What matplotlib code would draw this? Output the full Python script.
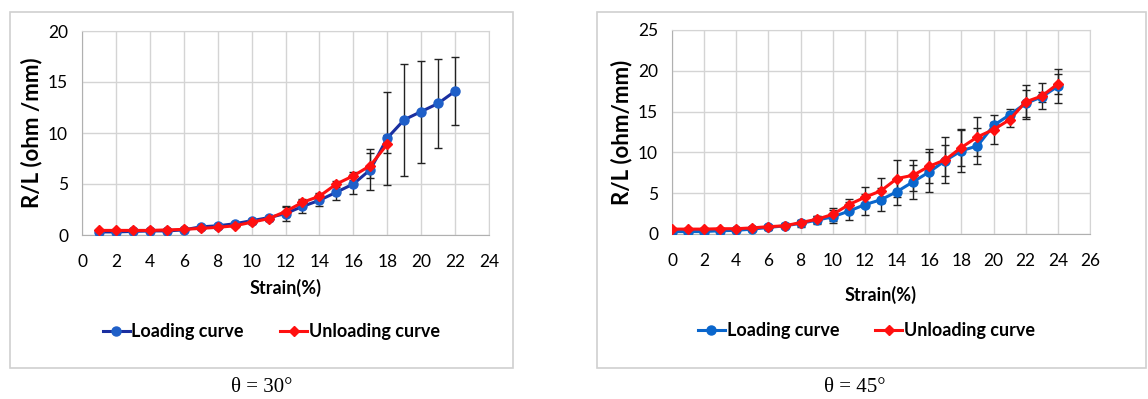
import numpy as np
import matplotlib
matplotlib.use("Agg")
import matplotlib.pyplot as plt
from matplotlib.patches import Rectangle

plt.rcParams['font.family'] = ['Lato', 'DejaVu Sans']

# ---- data: theta = 30 deg ----
strain_30_load = list(range(1, 23))
rl_30_load = [0.3, 0.3, 0.35, 0.4, 0.4, 0.5, 0.8, 0.9, 1.1, 1.4, 1.7, 2.1,
              2.8, 3.4, 4.2, 5.0, 6.4, 9.5, 11.3, 12.1, 12.9, 14.1]
err_30_load = [0.05, 0.05, 0.05, 0.05, 0.05, 0.1, 0.1, 0.15, 0.15, 0.2, 0.2, 0.7,
               0.6, 0.6, 0.8, 1.0, 2.0, 4.55, 5.5, 5.0, 4.35, 3.35]
strain_30_unload = list(range(1, 19))
rl_30_unload = [0.45, 0.45, 0.45, 0.45, 0.5, 0.55, 0.65, 0.75, 0.9, 1.25, 1.6, 2.3,
                3.2, 3.8, 5.0, 5.8, 6.8, 8.9]
err_30_unload = [0.05, 0.05, 0.05, 0.05, 0.05, 0.05, 0.1, 0.1, 0.1, 0.15, 0.2, 0.4,
                 0.3, 0.3, 0.3, 0.4, 1.2, 0.9]

# ---- data: theta = 45 deg ----
strain_45 = list(range(0, 25))
rl_45_load = [0.3, 0.3, 0.3, 0.4, 0.45, 0.6, 0.8, 1.0, 1.3, 1.7, 2.1, 2.8, 3.6,
              4.2, 5.2, 6.4, 7.6, 9.0, 10.2, 10.8, 13.3, 14.6, 16.0, 16.8, 18.1]
err_45_load = [0.1, 0.1, 0.1, 0.1, 0.1, 0.1, 0.3, 0.3, 0.4, 0.5, 0.8, 1.1, 1.3,
               1.4, 1.65, 2.1, 2.4, 1.9, 2.6, 2.25, 0.4, 0.7, 1.7, 0.6, 2.1]
rl_45_unload = [0.6, 0.6, 0.6, 0.65, 0.65, 0.75, 0.9, 1.0, 1.4, 1.8, 2.4, 3.6, 4.5,
                5.3, 6.8, 7.2, 8.3, 9.1, 10.6, 11.9, 12.8, 14.0, 16.2, 16.9, 18.4]
err_45_unload = [0.1, 0.1, 0.1, 0.1, 0.1, 0.1, 0.2, 0.2, 0.3, 0.4, 0.75, 0.7, 1.2,
                 1.55, 2.25, 1.9, 2.1, 2.8, 2.3, 2.4, 1.8, 0.9, 2.1, 1.6, 1.2]

W, H = 1148, 399
fig = plt.figure(figsize=(W / 100, H / 100), dpi=100)

# grey frames around the two panels
for x0, x1 in [(10, 513), (597, 1146)]:
    fig.patches.append(Rectangle((x0 / W, 1 - 368 / H), (x1 - x0) / W, 356 / H,
                                 transform=fig.transFigure, fill=False,
                                 edgecolor='#d0d0d0', linewidth=1.2))


def draw_panel(ax, xl, yl, el, xu, yu, eu, load_line, load_mark,
               xmax, ymax, ylabel, xlabelpad, caption_x, caption):
    ax.errorbar(xl, yl, yerr=el, fmt='none', ecolor='#222222', elinewidth=1,
                capsize=3, capthick=1, zorder=2)
    ax.errorbar(xu, yu, yerr=eu, fmt='none', ecolor='#222222', elinewidth=1,
                capsize=3, capthick=1, zorder=2)
    ax.plot(xl, yl, '-o', color=load_line, mfc=load_mark, mec=load_mark,
            lw=2.2, ms=6.5, label='Loading curve', zorder=3)
    ax.plot(xu, yu, '-D', color='#ff1010', mfc='#ff1010', mec='#ff1010',
            lw=2.2, ms=5, label='Unloading curve', zorder=4)
    ax.set_xlim(0, xmax)
    ax.set_ylim(0, ymax)
    ax.set_xticks(np.arange(0, xmax + 1, 2))
    ax.set_yticks(np.arange(0, ymax + 1, 5))
    ax.grid(True, color='#d4d4d4', linewidth=1)
    ax.set_axisbelow(True)
    for s in ax.spines.values():
        s.set_color('#d4d4d4')
    ax.spines['bottom'].set_color('#b0b0b0')
    ax.spines['left'].set_color('#b0b0b0')
    ax.tick_params(length=0, labelsize=12.5, pad=10)
    ax.tick_params(axis='x', pad=14)
    ax.set_xlabel('Strain(%)', fontsize=13, fontweight='bold', labelpad=xlabelpad)
    ax.set_ylabel(ylabel, fontsize=16, fontweight='bold', labelpad=4)
    ax.legend(loc='center', bbox_to_anchor=(0.465, -0.475), ncol=2, frameon=False,
              prop={'weight': 'bold', 'size': 13}, handlelength=1.5,
              handletextpad=0.1, columnspacing=2.0)
    fig.text(caption_x, 1 - 388 / H, caption, ha='center', va='center',
             fontsize=15, family='Liberation Serif')


ax1 = fig.add_axes([82 / W, 1 - 235 / H, 407 / W, 204 / H])
draw_panel(ax1, strain_30_load, rl_30_load, err_30_load,
           strain_30_unload, rl_30_unload, err_30_unload,
           '#1a2fa0', '#1f5fc8', 24, 20, 'R/L (ohm /mm)', 6, 262 / W, 'θ = 30°')

ax2 = fig.add_axes([672 / W, 1 - 234 / H, 418 / W, 204 / H])
draw_panel(ax2, strain_45, rl_45_load, err_45_load,
           strain_45, rl_45_unload, err_45_unload,
           '#0a66cc', '#0a66cc', 26, 25, 'R/L (ohm/mm)', 12, 855 / W, 'θ = 45°')

fig.savefig('out.png', dpi=100)
